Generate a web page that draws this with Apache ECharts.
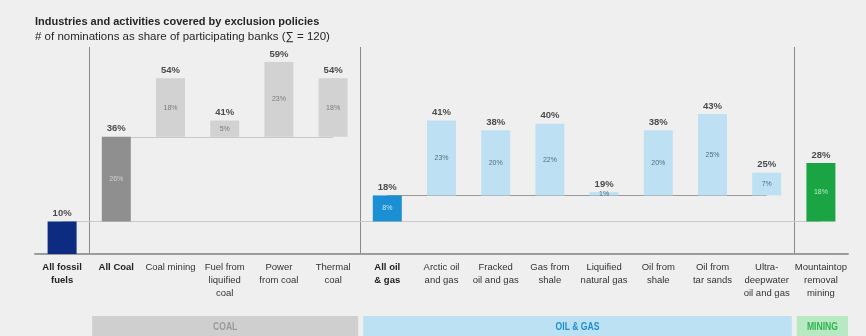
<!DOCTYPE html>
<html>
<head>
<meta charset="utf-8">
<script src="https://cdn.jsdelivr.net/npm/echarts@6/dist/echarts.min.js"></script>
<style>
  html, body { margin: 0; padding: 0; background: #efefef; }
  #chart { width: 866px; height: 336px; }
</style>
</head>
<body>
<div id="chart"></div>
<script>
// Exclusion policy coverage: share of participating banks naming each activity
const categories = [
  'All fossil\nfuels', 'All Coal', 'Coal mining', 'Fuel from\nliquified\ncoal',
  'Power\nfrom coal', 'Thermal\ncoal', 'All oil\n& gas', 'Arctic oil\nand gas',
  'Fracked\noil and gas', 'Gas from\nshale', 'Liquified\nnatural gas',
  'Oil from\nshale', 'Oil from\ntar sands', 'Ultra-\ndeepwater\noil and gas',
  'Mountaintop\nremoval\nmining'
];
// where each bar starts (cumulative share already counted)
const baseValues = [0, 10, 36, 36, 36, 36, 10, 18, 18, 18, 18, 18, 18, 18, 10];
// where each bar ends (total share incl. the broader category)
const totalValues = [10, 36, 54, 41, 59, 54, 18, 41, 38, 40, 19, 38, 43, 25, 28];
// increments shown inside the bars
const stepValues = totalValues.map((t, i) => t - baseValues[i]);
const boldIdx = [0, 1, 6];
const groupNames = ['COAL', 'OIL & GAS', 'MINING'];
const groupFrom = [1, 6, 14];
const groupTo = [5, 13, 14];

const barColors = ['#0d2b80', '#8f8f8f', '#d2d2d2', '#d2d2d2', '#d2d2d2', '#d2d2d2',
  '#1b8fd3', '#bde1f3', '#bde1f3', '#bde1f3', '#bde1f3', '#bde1f3', '#bde1f3', '#bde1f3', '#1aa443'];
const innerColors = [null, '#d0d0d0', '#7a7a7a', '#7a7a7a', '#7a7a7a', '#7a7a7a',
  '#c6e6f8', '#4f6f85', '#4f6f85', '#4f6f85', '#4f6f85', '#4f6f85', '#4f6f85', '#4f6f85', '#b5ecc3'];
const bandFill = ['#cfcfcf', '#bbe1f3', '#b8e9c3'];
const bandText = ['#9a9a9a', '#1b8fd3', '#2eb34f'];

const chart = echarts.init(document.getElementById('chart'), null, { renderer: 'canvas' });
const FONT = '"Liberation Sans", Arial, sans-serif';

const option = {
  backgroundColor: '#efefef',
  animation: false,
  title: [
    { text: 'Industries and activities covered by exclusion policies', left: 30, top: 11,
      textStyle: { fontFamily: FONT, fontSize: 11, fontWeight: 'bold', color: '#262626' } },
    { text: '# of nominations as share of participating banks (\u2211 = 120)', left: 30, top: 26,
      textStyle: { fontFamily: FONT, fontSize: 11.5, fontWeight: 'normal', color: '#262626' } }
  ],
  grid: { left: 35, right: 18, top: 49, bottom: 82 },
  xAxis: {
    type: 'category',
    data: categories,
    axisLine: { lineStyle: { color: '#9c9c9c', width: 2 } },
    axisTick: { show: false },
    axisLabel: {
      interval: 0, margin: 7, lineHeight: 13,
      fontFamily: FONT, fontSize: 9.5, color: '#333',
      formatter: (v, i) => boldIdx.includes(i)
        ? v.split('\n').map(s => '{b|' + s + '}').join('\n') : v,
      rich: { b: { fontFamily: FONT, fontSize: 9.5, fontWeight: 'bold', color: '#222', lineHeight: 13 } }
    }
  },
  yAxis: { type: 'value', min: 0, max: 63, show: false, splitLine: { show: false } },
  series: [
    {
      type: 'bar', stack: 'w', barWidth: 29, silent: true,
      data: baseValues,
      itemStyle: { color: 'transparent' },
      markLine: {
        silent: true, symbol: 'none', z: 1,
        label: { show: false },
        data: [
          [{ coord: [0, 10], lineStyle: { color: '#c9c9c9', width: 1, type: 'solid' } }, { coord: [14, 10] }],
          [{ coord: [1, 36], lineStyle: { color: '#c9c9c9', width: 1, type: 'solid' } }, { coord: [5, 36] }],
          [{ coord: [6, 18], lineStyle: { color: '#9a9a9a', width: 1, type: 'solid' } }, { coord: [13, 18] }]
        ]
      }
    },
    {
      type: 'bar', stack: 'w', barWidth: 29, z: 3,
      data: stepValues.map((v, i) => ({
        value: v,
        itemStyle: { color: barColors[i] },
        label: innerColors[i] ? { color: innerColors[i] } : { show: false }
      })),
      label: {
        show: true, position: 'inside', fontFamily: FONT, fontSize: 7,
        formatter: p => p.value + '%'
      }
    },
    {
      type: 'scatter', symbolSize: 0, z: 4,
      data: totalValues.map((v, i) => [i, v]),
      label: {
        show: true, position: 'top', distance: 3,
        fontFamily: FONT, fontSize: 9.5, fontWeight: 'bold', color: '#222',
        formatter: p => p.value[1] + '%'
      }
    }
  ]
};
chart.setOption(option);

// Group separators and category bands below the axis
const px = i => chart.convertToPixel({ xAxisIndex: 0 }, i);
const step = px(1) - px(0);
const boundary = i => px(i) - step / 2;
const axisY = chart.convertToPixel({ yAxisIndex: 0 }, 0);
const graphics = [];
[1, 6, 14].forEach(i => {
  const x = Math.round(boundary(i)) + 0.5;
  graphics.push({
    type: 'line', silent: true, z: 0,
    shape: { x1: x, y1: 47, x2: x, y2: axisY },
    style: { stroke: '#8a8a8a', lineWidth: 1 }
  });
});
groupNames.forEach((name, g) => {
  const x0 = boundary(groupFrom[g]) + 3;
  const x1 = g === groupNames.length - 1 ? 848 : boundary(groupTo[g] + 1) - 2;
  graphics.push({
    type: 'rect', silent: true,
    shape: { x: x0, y: 316, width: x1 - x0, height: 22 },
    style: { fill: bandFill[g] }
  });
  graphics.push({
    type: 'text', silent: true, z: 10,
    x: (x0 + x1) / 2, y: 327, scaleX: 0.78,
    style: {
      text: name, fill: bandText[g], align: 'center', verticalAlign: 'middle',
      font: 'bold 11px "Liberation Sans", Arial, sans-serif'
    }
  });
});
chart.setOption({ graphic: graphics });
</script>
</body>
</html>
